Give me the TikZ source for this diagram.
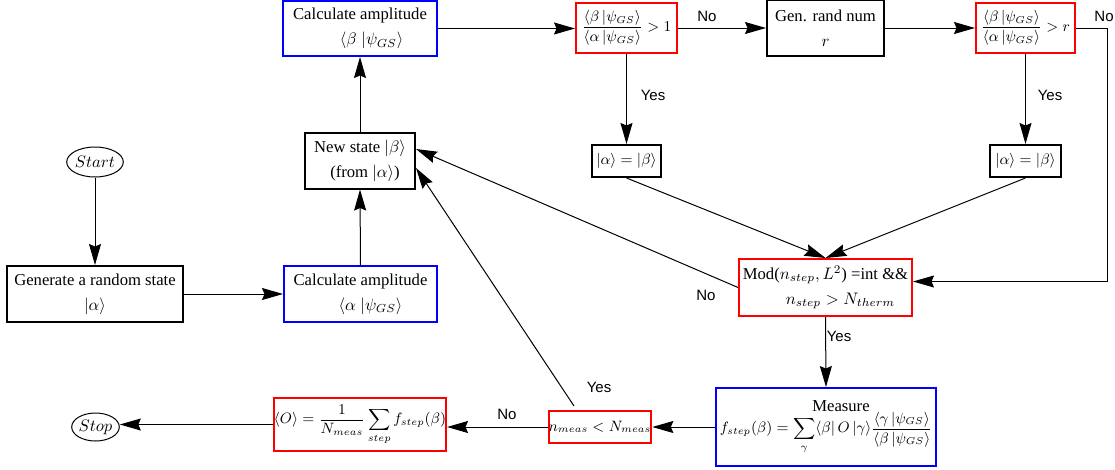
\documentclass[tikz,border=0pt]{standalone}
\usepackage{amsmath}
\usepackage{fontspec}
\setmainfont{Liberation Serif}
\newfontfamily\labfont{Liberation Sans}
\usetikzlibrary{arrows.meta,shapes.geometric,calc}
\newcommand{\smallmath}{\fontsize{8.8}{11}\selectfont}
\begin{document}
\begin{tikzpicture}[x=0.6pt,y=-0.6pt,
  sz/.style 2 args={minimum width=#1*0.6pt, minimum height=#2*0.6pt},
  basebox/.style={draw, line width=1.2pt, align=center, inner sep=0pt, font=\fontsize{10}{15}\selectfont},
  blkbox/.style={basebox, draw=black},
  redbox/.style={basebox, draw=red},
  bluebox/.style={basebox, draw=blue},
  oval/.style={ellipse, draw, line width=0.6pt, inner sep=0pt, font=\fontsize{10}{12}\selectfont},
  arr/.style={line width=0.6pt, -{Stealth[length=12.6pt,width=7.2pt,inset=1.5pt]}},
  lbl/.style={font=\labfont\fontsize{9}{11}\selectfont, inner sep=0pt},
]
\useasboundingbox (0,0) rectangle (1115,470);

% nodes
\node[oval, sz={48}{30}] (start) at (95,162) {$Start$};
\node[blkbox, sz={176}{56}] (gen) at (95,294) {Generate a random state\\$|\alpha\rangle$};
\node[bluebox, sz={153}{56}] (calcA) at (360.5,294) {Calculate amplitude\\\hspace*{12pt}$\langle\alpha\;|\psi_{GS}\rangle$};
\node[blkbox, sz={110}{56}] (ns) at (360,160.5) {New state $|\beta\rangle$\\\hspace*{6pt}(from $|\alpha\rangle$)};
\node[bluebox, sz={154}{55}] (calcB) at (360,28.5) {Calculate amplitude\\\hspace*{14pt}$\langle\beta\;|\psi_{GS}\rangle$};
\node[redbox, sz={101}{50}] (r1) at (626.5,28) {\smallmath$\dfrac{\langle\beta\,|\psi_{GS}\rangle}{\langle\alpha\,|\psi_{GS}\rangle} > 1$};
\node[blkbox, sz={117}{56}] (genr) at (825.5,28) {Gen. rand num\\$r$};
\node[redbox, sz={99}{50}] (r2) at (1025.5,28) {\smallmath$\dfrac{\langle\beta\,|\psi_{GS}\rangle}{\langle\alpha\,|\psi_{GS}\rangle} > r$};
\node[blkbox, sz={69}{32}] (eqL) at (626.5,161) {\smallmath$|\alpha\rangle = |\beta\rangle$};
\node[blkbox, sz={71}{32}] (eqR) at (1025.5,161) {\smallmath$|\alpha\rangle = |\beta\rangle$};
\node[redbox, sz={173}{57}] (mod) at (825.5,287.5) {Mod($n_{step}, L^2$) =int \&\&\\\hspace*{18pt}$n_{step} > N_{therm}$};
\node[bluebox, sz={220}{78}] (meas) at (826,427) {\hspace*{18pt}Measure\\[-2pt]{\smallmath$\displaystyle f_{step}(\beta) = \sum_{\gamma}\langle\beta|\,O\,|\gamma\rangle\frac{\langle\gamma\,|\psi_{GS}\rangle}{\langle\beta\,|\psi_{GS}\rangle}$}};
\node[redbox, sz={102}{32}] (nm) at (600,427) {\smallmath$n_{meas} < N_{meas}$};
\node[redbox, sz={170}{53}] (avg) at (360,424.5) {\smallmath$\displaystyle\langle O\rangle = \frac{1}{N_{meas}}\sum_{step} f_{step}(\beta)$};
\node[oval, sz={47}{28}] (stop) at (95.5,427) {$Stop$};

% helper coordinates
\coordinate (nsA) at ($(ns.east)+(0,-11.5)$);
\coordinate (nsB) at ($(ns.east)+(0,7.5)$);
\coordinate (nmY) at ($(nm.north)+(-26,-4)$);
\coordinate (modIn) at ($(mod.east)+(0,-6)$);
\coordinate (turn) at ($(r2.east)+(31,0)$);

% connectors
\draw[arr] (start.south) -- (start.south |- gen.north);
\draw[arr] (gen.east) -- (gen.east -| calcA.west);
\draw[arr] (calcA.north) -- (ns.south);
\draw[arr] (ns.north) -- (calcB.south);
\draw[arr] (calcB.east) -- (calcB.east -| r1.west);
\draw[arr] (r1.east) -- (r1.east -| genr.west);
\draw[arr] (genr.east) -- (genr.east -| r2.west);
\draw[arr] (r1.south) -- (eqL.north);
\draw[arr] (r2.south) -- (eqR.north);
\draw[arr] (r2.east) -- (turn) |- (modIn);
\draw[arr] (eqL.south) -- (mod.north);
\draw[arr] (eqR.south) -- (mod.north);
\draw[arr] (mod.west) -- (nsA);
\draw[arr] (mod.south) -- (meas.north);
\draw[arr] (meas.west) -- (nm.east);
\draw[arr] (nmY) -- (nsB);
\draw[arr] (nm.west) -- (nm.west -| avg.east);
\draw[arr] (avg.west) -- (avg.west -| stop.east);

% labels
\node[lbl] (l1) at (707,16) {No};
\node[lbl] (l2) at (653,95) {Yes};
\node[lbl] (l3) at (1050,95) {Yes};
\node[lbl] (l4) at (1104,16) {No};
\node[lbl] (l5) at (706,295) {No};
\node[lbl] (l6) at (839,336) {Yes};
\node[lbl] (l7) at (599,387) {Yes};
\node[lbl] (l8) at (507,414) {No};
\end{tikzpicture}
\end{document}
